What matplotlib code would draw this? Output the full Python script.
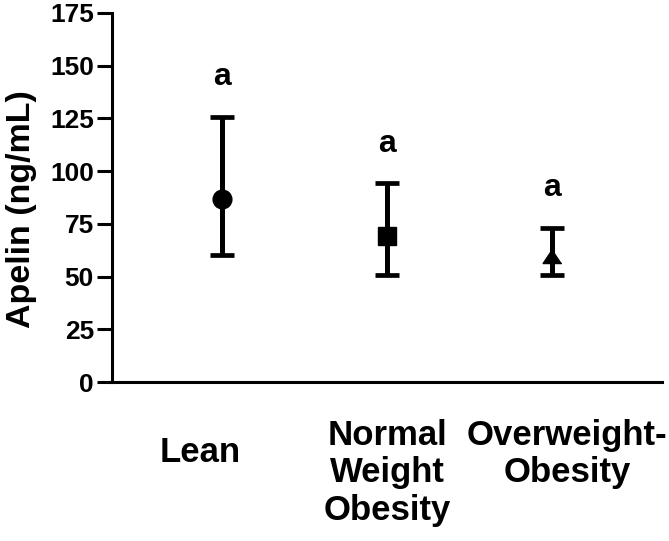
import matplotlib
matplotlib.use("Agg")
import matplotlib.pyplot as plt
from matplotlib import transforms

plt.rcParams['font.family'] = ['Liberation Sans', 'DejaVu Sans']
plt.rcParams['font.weight'] = 'bold'

categories = ["Lean", "Normal\nWeight\nObesity", "Overweight-\nObesity"]
means = [86.6, 69.2, 59.8]
upper = [125.8, 94.3, 73.0]
lower = [60.1, 50.9, 50.6]
letters = ["a", "a", "a"]
markers = ["o", "s", [(0, 0.75), (-1, -0.75), (1, -0.75)]]
yticks = [0, 25, 50, 75, 100, 125, 150, 175]

fig = plt.figure(figsize=(6.69, 5.41), dpi=100)
ax = fig.add_axes([112/669, 1 - 382/541, (662 - 112)/669, (382 - 13)/541])

xs = [1, 2, 3]
for x, m, lo, hi, mk in zip(xs, means, lower, upper, markers):
    ax.errorbar([x], [m], yerr=[[m - lo], [hi - m]], fmt='none', ecolor='black',
                elinewidth=3.6, capsize=8.3, capthick=3.4, zorder=2)
    ax.plot([x], [m], marker=mk, color='black', markersize=13.5, linestyle='none', zorder=3)

for x, hi, t in zip(xs, upper, letters):
    ax.text(x, hi + 15, t, ha='center', va='baseline', fontsize=23, fontweight='bold')

ax.set_xlim(1/3, 3 + 2/3)
ax.set_ylim(0, 175)
ax.set_yticks(yticks)
ax.set_yticklabels([str(v) for v in yticks], fontsize=19, fontweight='bold')
ax.set_xticks([])
ax.set_ylabel("Apelin (ng/mL)", fontsize=24.5, fontweight='bold')
ax.yaxis.set_label_coords(-0.137, 0.47)

for s in ['top', 'right']:
    ax.spines[s].set_visible(False)
for s in ['left', 'bottom']:
    ax.spines[s].set_linewidth(2.2)
ax.tick_params(axis='y', length=11, width=2.2, pad=2)

# category labels (x offset in pixels, top in pixels from figure top)
label_dx = [-22, 0, 15]
label_top = [440, 423, 423]
for x, lab, dx, top in zip(xs, categories, label_dx, label_top):
    tr = transforms.blended_transform_factory(ax.transData, fig.transFigure)
    off = transforms.ScaledTranslation(dx / 100, 0, fig.dpi_scale_trans)
    ax.text(x, 1 - (top - 4) / 541, lab, transform=tr + off, ha='center', va='top',
            fontsize=25, fontweight='bold', linespacing=1.17, multialignment='center')

fig.savefig("out.png", dpi=100)
